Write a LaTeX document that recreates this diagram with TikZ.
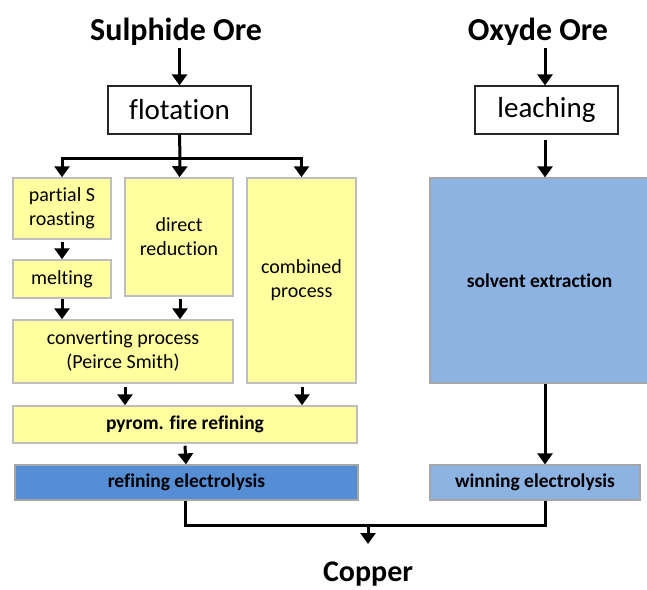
\documentclass[tikz,border=0pt]{standalone}
\usepackage{fontspec}
\setmainfont{Carlito}[Ligatures={NoCommon}]
\usetikzlibrary{arrows.meta,calc}
\definecolor{yel}{RGB}{255,255,160}
\definecolor{ygray}{RGB}{190,190,190}
\definecolor{blueA}{RGB}{85,142,213}
\definecolor{blueB}{RGB}{141,179,226}
\tikzset{
  title/.style={font=\fontsize{32}{36}\selectfont\bfseries, inner sep=0pt},
  wbox/.style={draw=black!85, line width=1.2pt, fill=white, inner sep=0pt, align=center, font=\fontsize{29}{32}\selectfont},
  ybox/.style={draw=ygray, line width=1.5pt, fill=yel, inner sep=0pt, align=center, font=\fontsize{20}{24}\selectfont},
  ybold/.style={ybox, font=\fontsize{19.5}{22}\selectfont\bfseries},
  bbox/.style={draw=black!35, line width=1.2pt, inner sep=0pt, align=center, font=\fontsize{19.5}{22}\selectfont\bfseries},
  conn/.style={line width=3pt, -{Triangle[width=15pt,length=11pt]}},
  plain/.style={line width=3pt},
}
\begin{document}
\begin{tikzpicture}[x=1pt,y=-1pt]
\useasboundingbox (0,0) rectangle (647,589);
% titles
\node[title] (sul) at (176,32) {Sulphide Ore};
\node[title] (oxy) at (538,32) {Oxyde Ore};
\node[title, font=\fontsize{30}{34}\selectfont\bfseries, anchor=base] (cop) at (368,581) {Copper};
% boxes
\node[wbox, minimum width=143, minimum height=48] (flot) at (179.5,110) {flotation};
\node[wbox, minimum width=143, minimum height=48] (leach) at (546.5,110) {leaching};
\node[ybox, minimum width=98, minimum height=61] (roast) at (62,208.5) {partial S\\roasting};
\node[ybox, minimum width=108, minimum height=118] (direct) at (179,237) {direct\\reduction};
\node[ybox, minimum width=109, minimum height=205] (comb) at (301.5,280.5) {combined\\process};
\node[ybox, minimum width=98, minimum height=38] (melt) at (62,279) {melting};
\node[ybox, minimum width=220, minimum height=63] (conv) at (123,351.5) {converting process\\(Peirce Smith)};
\node[ybold, minimum width=344, minimum height=37] (pyrom) at (185,424.5) {pyrom. fire refining};
\node[bbox, fill=blueA, minimum width=343, minimum height=35] (refel) at (186.5,482.5) {refining electrolysis};
\node[bbox, fill=blueB, minimum width=219, minimum height=205] (solv) at (539.5,280.5) {solvent extraction};
\node[bbox, fill=blueB, minimum width=210, minimum height=35] (winel) at (535,482.5) {winning electrolysis};
% connectors
\coordinate (br) at (180,158);
\coordinate (mj) at (368,525);
\coordinate (cj) at (368,544);
\draw[conn] ([yshift=-2]sul.south -| flot.north) -- (flot.north);
\draw[plain] (flot.south) -- (br);
\draw[plain, line cap=rect] (roast.north |- br) -- (comb.north |- br);
\draw[conn] (br) -- (flot.south |- direct.north);
\draw[conn, shorten <=-1.5pt] (roast.north |- br) -- (roast.north);
\draw[conn, shorten <=-1.5pt] (comb.north |- br) -- (comb.north);
\draw[conn] ([yshift=-2]oxy.south -| leach.north) ++(-1.5,0) -- ([xshift=-1.5]leach.north);
\draw[conn] ([xshift=-1.5,yshift=-5]leach.south) -- ([xshift=-1.5]leach.south |- solv.north);
\draw[conn] ([yshift=-2]roast.south) -- (melt.north);
\draw[conn] (melt.south) -- (melt.south |- conv.north);
\draw[conn] ([xshift=1,yshift=-2]direct.south) -- ([xshift=1]direct.south |- conv.north);
\draw[conn] ([xshift=2,yshift=-3]conv.south) -- ([xshift=2]conv.south |- pyrom.north);
\draw[conn] ([xshift=0.5,yshift=-3]comb.south) -- ([xshift=0.5]comb.south |- pyrom.north);
\draw[conn] ([yshift=-2]pyrom.south) -- ([xshift=1]pyrom.south |- refel.north);
\draw[conn] ([xshift=-1.5]leach.south |- solv.south) -- ([xshift=-1.5]leach.south |- winel.north);
\draw[plain, line join=miter] ([xshift=-1.5]refel.south) |- (mj) -| ([xshift=10]winel.south);
\draw[conn] (mj) -- (cj);
\end{tikzpicture}
\end{document}
